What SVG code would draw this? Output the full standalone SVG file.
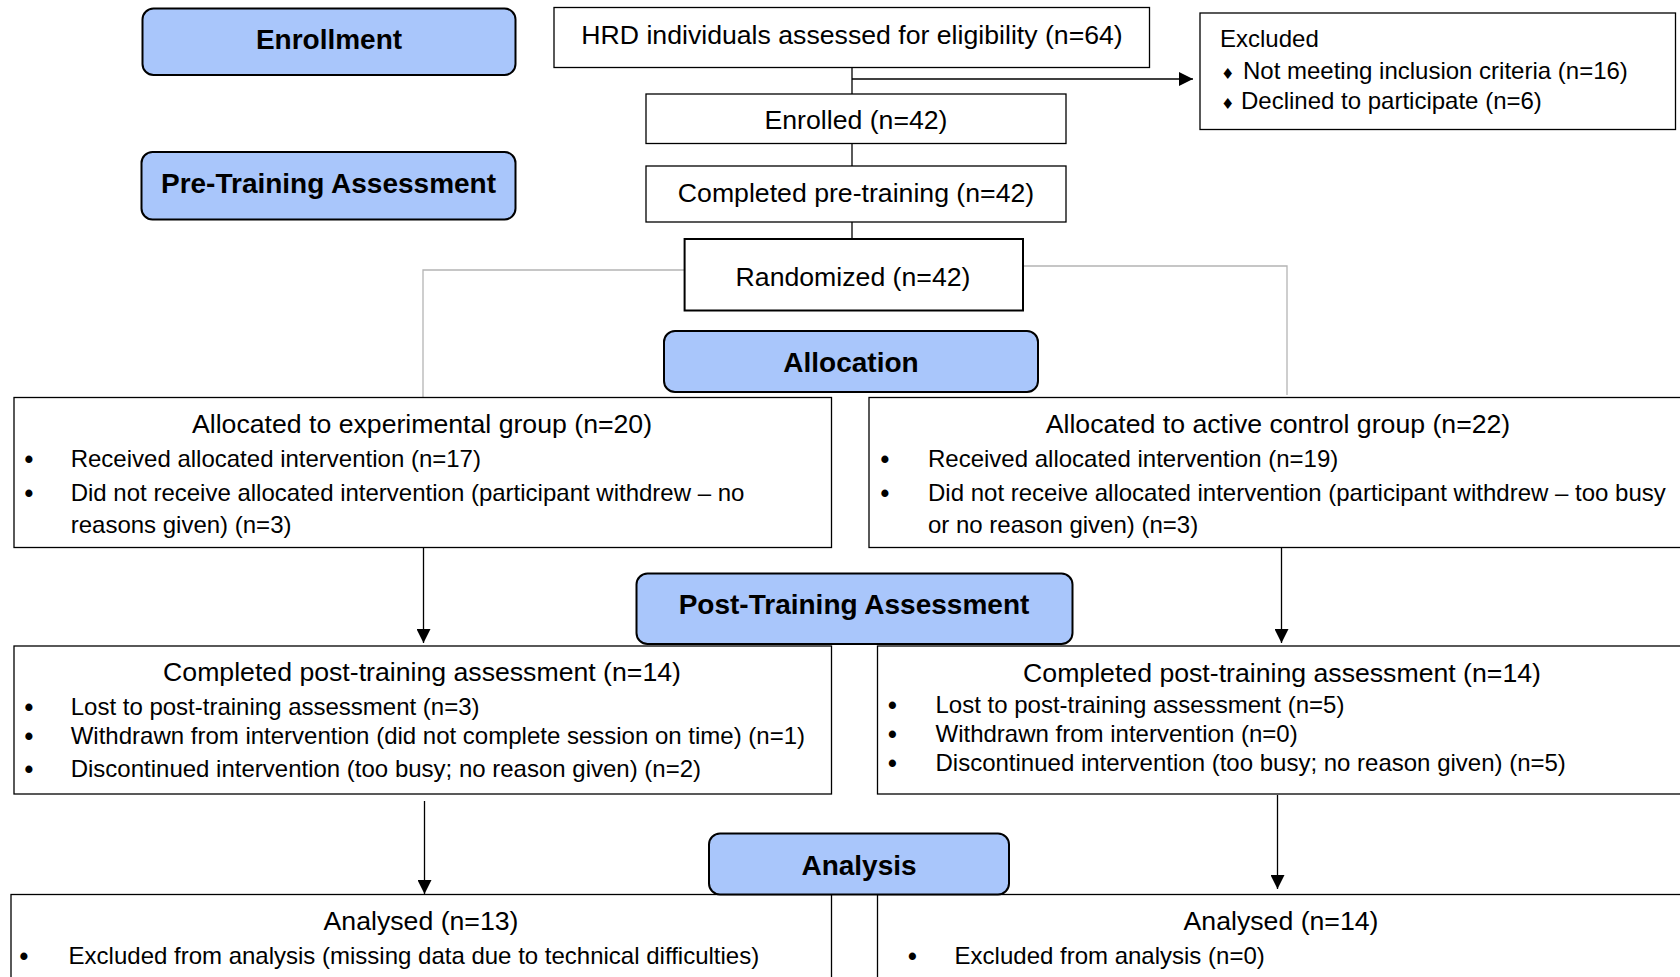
<svg xmlns="http://www.w3.org/2000/svg" width="1680" height="977" viewBox="0 0 1680 977">
<style>
  .box { fill: #ffffff; stroke: #000000; stroke-width: 1.3; }
  .stage { fill: #a9c6fb; stroke: #000000; stroke-width: 2; }
  .lbl { font-family: "Liberation Sans", Arial, sans-serif; font-size: 28px; font-weight: bold; fill: #000; text-anchor: middle; }
  .t20 { font-family: "Liberation Sans", Arial, sans-serif; font-size: 26.67px; fill: #000; }
  .t18 { font-family: "Liberation Sans", Arial, sans-serif; font-size: 24px; fill: #000; }
  .bul { font-family: "Liberation Sans", Arial, sans-serif; font-size: 25px; font-weight: bold; fill: #000; }
  .mid { text-anchor: middle; }
  .dia { font-family: "DejaVu Sans", sans-serif; font-size: 15px; fill: #000; }
  .ln { fill: none; stroke: #000; stroke-width: 1.3; }
  .gray { fill: none; stroke: #b4b4b4; stroke-width: 1.3; }
</style>
<defs>
  <marker id="arr" viewBox="0 0 10 10" refX="10" refY="5" markerWidth="14" markerHeight="14" markerUnits="userSpaceOnUse" orient="auto">
    <path d="M0,0 L10,5 L0,10 Z" fill="#000"/>
  </marker>
</defs>
<rect width="1680" height="977" fill="#ffffff"/>

<g id="connectors">
  <line class="ln" x1="852" y1="67.5" x2="852" y2="94"/>
  <line class="ln" x1="852" y1="79" x2="1193" y2="79" marker-end="url(#arr)"/>
  <line class="ln" x1="852" y1="143.5" x2="852" y2="166"/>
  <line class="ln" x1="852" y1="222" x2="852" y2="239"/>
  <polyline class="gray" points="684.6,270 423,270 423,397.5"/>
  <polyline class="gray" points="1023,266 1287,266 1287,395"/>
  <line class="ln" x1="423.5" y1="547.5" x2="423.5" y2="643" marker-end="url(#arr)"/>
  <line class="ln" x1="1281.5" y1="547.5" x2="1281.5" y2="643" marker-end="url(#arr)"/>
  <line class="ln" x1="424.5" y1="801" x2="424.5" y2="894" marker-end="url(#arr)"/>
  <line class="ln" x1="1277.5" y1="795" x2="1277.5" y2="889" marker-end="url(#arr)"/>
</g>

<g id="enrollment">
  <rect class="stage" x="142.5" y="8.5" width="373" height="66.5" rx="11"/>
  <text class="lbl" x="329" y="48.5">Enrollment</text>
</g>
<g id="pretraining">
  <rect class="stage" x="141.5" y="152" width="374" height="67.5" rx="11"/>
  <text class="lbl" x="328.5" y="193">Pre-Training Assessment</text>
</g>
<g id="assessed">
  <rect class="box" x="554" y="7.5" width="595.5" height="60"/>
  <text class="t20 mid" x="852" y="43.5">HRD individuals assessed for eligibility (n=64)</text>
</g>
<g id="excluded">
  <rect class="box" x="1200" y="13" width="475.5" height="116.5"/>
  <text class="t18" x="1220" y="47">Excluded</text>
  <text class="dia" x="1221" y="78.5">♦</text>
  <text class="t18" x="1243" y="79">Not meeting inclusion criteria (n=16)</text>
  <text class="dia" x="1221" y="108.5">♦</text>
  <text class="t18" x="1241" y="109">Declined to participate (n=6)</text>
</g>
<g id="enrolled">
  <rect class="box" x="646" y="94" width="420" height="49.5"/>
  <text class="t20 mid" x="856" y="129">Enrolled (n=42)</text>
</g>
<g id="completedpre">
  <rect class="box" x="646" y="166" width="420" height="56"/>
  <text class="t20 mid" x="856" y="202">Completed pre-training (n=42)</text>
</g>
<g id="randomized">
  <rect class="box" x="684.6" y="239" width="338.4" height="71.5" style="stroke-width:2"/>
  <text class="t20 mid" x="853" y="285.5">Randomized (n=42)</text>
</g>
<g id="allocation">
  <rect class="stage" x="664" y="331" width="374" height="61" rx="11"/>
  <text class="lbl" x="851" y="372">Allocation</text>
</g>
<g id="alloc-exp">
  <rect class="box" x="14" y="397.5" width="817.5" height="150"/>
  <text class="t20 mid" x="422" y="433">Allocated to experimental group (n=20)</text>
  <text class="bul" x="24.5" y="468">•</text>
  <text class="t18" x="70.7" y="467">Received allocated intervention (n=17)</text>
  <text class="bul" x="24.5" y="502">•</text>
  <text class="t18" x="70.7" y="501">Did not receive allocated intervention (participant withdrew – no</text>
  <text class="t18" x="70.7" y="533">reasons given) (n=3)</text>
</g>
<g id="alloc-ctrl">
  <rect class="box" x="869" y="397.5" width="830" height="150"/>
  <text class="t20 mid" x="1278" y="433">Allocated to active control group (n=22)</text>
  <text class="bul" x="880.5" y="468">•</text>
  <text class="t18" x="928" y="467">Received allocated intervention (n=19)</text>
  <text class="bul" x="880.5" y="502">•</text>
  <text class="t18" x="928" y="501">Did not receive allocated intervention (participant withdrew – too busy</text>
  <text class="t18" x="928" y="533">or no reason given) (n=3)</text>
</g>
<g id="posttraining">
  <rect class="stage" x="636.5" y="573.5" width="436" height="70.5" rx="11"/>
  <text class="lbl" x="854" y="614">Post-Training Assessment</text>
</g>
<g id="post-exp">
  <rect class="box" x="14" y="646" width="817.5" height="148"/>
  <text class="t20 mid" x="422" y="681">Completed post-training assessment (n=14)</text>
  <text class="bul" x="24.5" y="716">•</text>
  <text class="t18" x="70.7" y="715">Lost to post-training assessment (n=3)</text>
  <text class="bul" x="24.5" y="745">•</text>
  <text class="t18" x="70.7" y="744">Withdrawn from intervention (did not complete session on time) (n=1)</text>
  <text class="bul" x="24.5" y="778">•</text>
  <text class="t18" x="70.7" y="777">Discontinued intervention (too busy; no reason given) (n=2)</text>
</g>
<g id="post-ctrl">
  <rect class="box" x="877.5" y="646" width="822" height="148"/>
  <text class="t20 mid" x="1282" y="682">Completed post-training assessment (n=14)</text>
  <text class="bul" x="888" y="714">•</text>
  <text class="t18" x="935.5" y="713">Lost to post-training assessment (n=5)</text>
  <text class="bul" x="888" y="743">•</text>
  <text class="t18" x="935.5" y="742">Withdrawn from intervention (n=0)</text>
  <text class="bul" x="888" y="772">•</text>
  <text class="t18" x="935.5" y="771">Discontinued intervention (too busy; no reason given) (n=5)</text>
</g>
<g id="analysed-exp">
  <rect class="box" x="11" y="894.5" width="820.5" height="100"/>
  <text class="t20 mid" x="421" y="930">Analysed (n=13)</text>
  <text class="bul" x="19.5" y="964.5">•</text>
  <text class="t18" x="68.6" y="963.5">Excluded from analysis (missing data due to technical difficulties)</text>
</g>
<g id="analysed-ctrl">
  <rect class="box" x="877.5" y="894.5" width="822" height="100"/>
  <text class="t20 mid" x="1281" y="930">Analysed (n=14)</text>
  <text class="bul" x="908" y="964.5">•</text>
  <text class="t18" x="954.6" y="963.5">Excluded from analysis (n=0)</text>
</g>
<g id="analysis">
  <rect class="stage" x="709" y="833.5" width="300" height="61" rx="11"/>
  <text class="lbl" x="859" y="874.5">Analysis</text>
</g>
</svg>
